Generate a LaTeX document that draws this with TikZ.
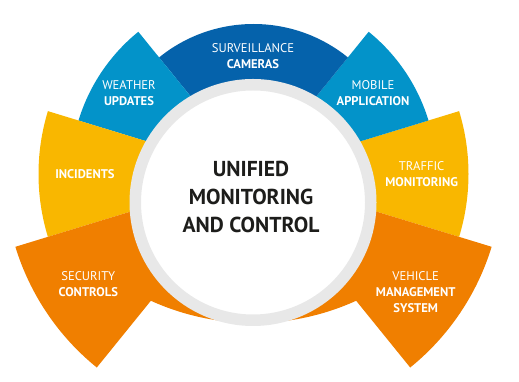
\documentclass[tikz,border=0pt]{standalone}
\usepackage{fontspec}
\setmainfont{PT Sans}
\usepackage{xcolor}
\usetikzlibrary{positioning, calc}
\definecolor{umBlueDark}{HTML}{0562AB}
\definecolor{umBlue}{HTML}{0393C9}
\definecolor{umYellow}{HTML}{F9B700}
\definecolor{umOrange}{HTML}{F07F00}
\definecolor{umGrey}{HTML}{E8E8E8}
\definecolor{umInk}{HTML}{1D1D1B}

\begin{document}
\begin{tikzpicture}[x=1pt, y=1pt,
  lbl/.style={text=white, align=center, inner sep=0pt, font=\fontsize{12.6}{16}\selectfont},
  hubring/.style={circle, fill=white, draw=umGrey, line width=11.5pt, minimum size=235.5pt, inner sep=0pt},
  title/.style={text=umInk, align=center, inner sep=0pt, font=\fontsize{21.6}{28}\selectfont\bfseries}]
\useasboundingbox (0,0) rectangle (519,382);
\coordinate (apex) at (253.5,208);
\coordinate (sag) at (253.5,307);
% orange band below the hub
\fill[umOrange] (apex) -- ([shift={(244:248)}]sag) arc[start angle=244, end angle=296, radius=248] -- cycle;
% petals around the hub
\foreach \col/\a/\b/\r in {umYellow/-17/17/215, umBlue/17/51/183, umBlueDark/51/129/150, umBlue/129/163/183, umYellow/163/197/215, umOrange/197/231/249, umOrange/309/343/249}
  \fill[\col] (apex) -- ++(\a:\r) arc[start angle=\a, end angle=\b, radius=\r] -- cycle;
\node[hubring] (hub) at (253,179.5) {};
\node[title] (name) at (251,185.3) {UNIFIED\\MONITORING\\AND CONTROL};
\node[lbl] (surv) at (253,326) {SURVEILLANCE\\\textbf{CAMERAS}};
\node[lbl] (wthr) at (129,288.7) {WEATHER\\\textbf{UPDATES}};
\node[lbl] (mobi) at (373,289) {MOBILE\\\textbf{APPLICATION}};
\node[lbl] (inci) at (85,207.7) {\textbf{INCIDENTS}};
\node[lbl] (traf) at (421.7,208) {TRAFFIC\\\textbf{MONITORING}};
\node[lbl] (secu) at (88.3,98) {SECURITY\\\textbf{CONTROLS}};
\node[lbl] (vehi) at (415.7,89.8) {VEHICLE\\\textbf{MANAGEMENT}\\\textbf{SYSTEM}};
\end{tikzpicture}
\end{document}
